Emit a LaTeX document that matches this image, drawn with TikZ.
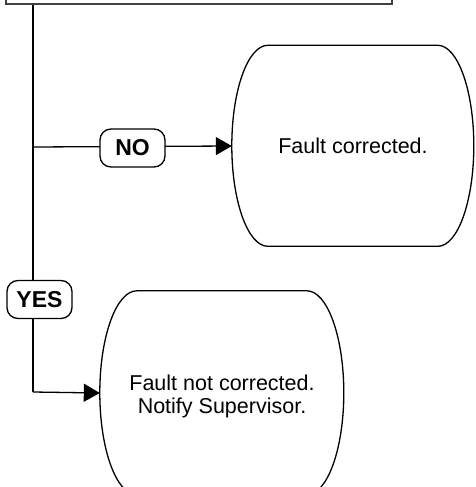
\documentclass[tikz,border=0pt]{standalone}
\usepackage{fontspec}
\setmainfont{Liberation Sans}
\usetikzlibrary{arrows.meta,calc}
\tikzset{
  x=1pt,y=1pt,
  line/.style={line width=1.3pt,black},
  arr/.style={line,-{Triangle[length=16pt,width=18pt]}},
  lbl/.style={draw,line width=1.3pt,fill=white,rounded corners=11pt,minimum width=65pt,minimum height=38pt,inner sep=0pt,font=\fontsize{23}{25}\selectfont\bfseries},
  termtext/.style={align=center,font=\fontsize{21.5}{23}\selectfont,inner sep=0pt},
}
\newcommand{\termoutline}[4]{% name, width, height, rx
  \draw[line] ($(#1.north west)+(#4,0)$) -- ++(#2-2*#4,0)
     arc[start angle=90,end angle=-90,x radius=#4,y radius=#3/2]
     -- ++(-#2+2*#4,0)
     arc[start angle=270,end angle=90,x radius=#4,y radius=#3/2] -- cycle;}
\begin{document}
\begin{tikzpicture}
\useasboundingbox (0,0) rectangle (476,-487);
\clip (0,0) rectangle (476,-487);
% top box (cut off)
\node[draw=black!75,line width=1.8pt,minimum width=386pt,minimum height=40pt,inner sep=0pt] (top) at (199,16) {};
% outcome shapes
\node[termtext,minimum width=242pt,minimum height=201pt] (fc) at (353,-146) {Fault corrected.};
\termoutline{fc}{242}{201}{36}
\node[termtext,minimum width=244pt,minimum height=204pt] (fnc) at (222,-393) {};
\node[termtext] (fnctext) at (222,-396) {Fault not corrected.\\Notify Supervisor.};
\termoutline{fnc}{244}{204}{37}
% connectors
\coordinate (j1) at (33,-147);
\coordinate (j2) at (33,-392);
\draw[line] (top.south -| j1) -- (j2);
\draw[arr] (j2) -- (fnc.west);
\draw[arr] (j1) -- (fc.west);
\node[lbl] (no) at (132.5,-148) {NO};
\node[lbl] (yes) at (39.5,-299.5) {YES};
\end{tikzpicture}
\end{document}
